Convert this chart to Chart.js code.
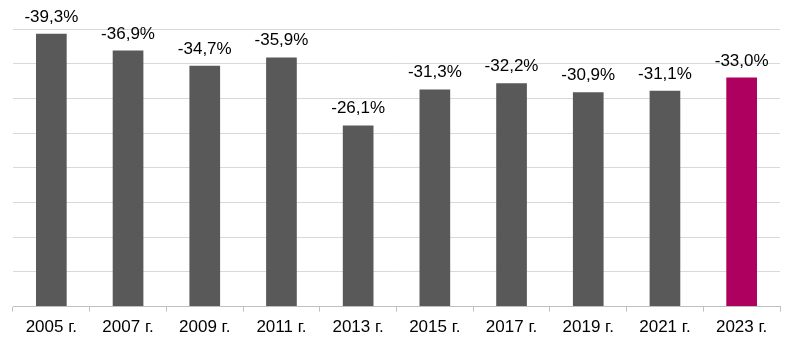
<!DOCTYPE html>
<html lang="ru">
<head>
  <meta charset="UTF-8">
  <title>Chart</title>
  <script src="https://cdn.jsdelivr.net/npm/chart.js"></script>
  <style>
    html, body { margin: 0; padding: 0; background: #fff; }
    .wrap { width: 796px; height: 344px; }
  </style>
</head>
<body>
  <div class="wrap"><canvas id="chart" width="796" height="344"></canvas></div>
  <script>
    const years = ["2005 г.", "2007 г.", "2009 г.", "2011 г.", "2013 г.", "2015 г.", "2017 г.", "2019 г.", "2021 г.", "2023 г."];
    const values = [-39.3, -36.9, -34.7, -35.9, -26.1, -31.3, -32.2, -30.9, -31.1, -33.0];
    const barColors = ["#595959", "#595959", "#595959", "#595959", "#595959", "#595959", "#595959", "#595959", "#595959", "#AD005F"];

    // bars are drawn by magnitude, labels keep the sign
    const heights = values.map(v => Math.abs(v));

    const labelPlugin = {
      id: "barLabels",
      afterDatasetsDraw(chart) {
        const ctx = chart.ctx;
        const meta = chart.getDatasetMeta(0);
        ctx.save();
        ctx.font = "17px 'Liberation Sans', Arial, sans-serif";
        ctx.fillStyle = "#000";
        ctx.textAlign = "center";
        ctx.textBaseline = "alphabetic";
        meta.data.forEach((bar, i) => {
          const txt = values[i].toFixed(1).replace(".", ",") + "%";
          ctx.fillText(txt, bar.x, bar.y - 12);
        });
        ctx.restore();
      }
    };

    new Chart(document.getElementById("chart"), {
      type: "bar",
      data: {
        labels: years,
        datasets: [{
          data: heights,
          backgroundColor: barColors,
          barPercentage: 0.4,
          categoryPercentage: 1.0
        }]
      },
      options: {
        responsive: false,
        animation: false,
        layout: { padding: { left: 13, right: 16, top: 29, bottom: 0 } },
        plugins: { legend: { display: false }, tooltip: { enabled: false } },
        scales: {
          x: {
            grid: { display: true, drawOnChartArea: false, drawTicks: true, tickLength: 5, color: "#bfbfbf", offset: true },
            border: { display: true, color: "#bfbfbf" },
            ticks: { color: "#000", font: { family: "'Liberation Sans', Arial, sans-serif", size: 17 }, padding: 6, maxRotation: 0 }
          },
          y: {
            min: 0,
            max: 40,
            ticks: { display: false, stepSize: 5 },
            grid: { color: "#d9d9d9", drawTicks: false },
            border: { display: false }
          }
        }
      },
      plugins: [labelPlugin]
    });
  </script>
</body>
</html>
